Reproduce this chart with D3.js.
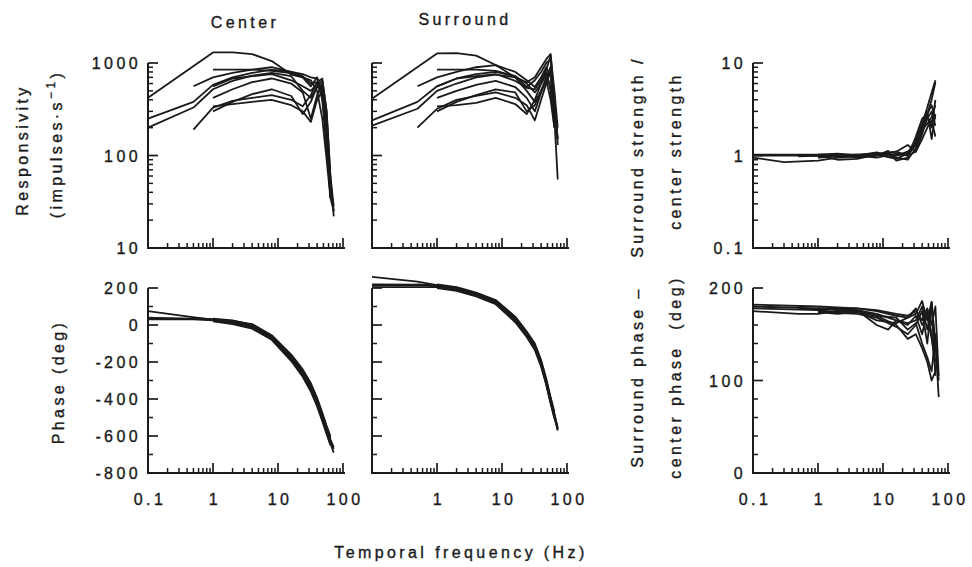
<!DOCTYPE html>
<html>
<head>
<meta charset="utf-8">
<script src="https://cdnjs.cloudflare.com/ajax/libs/d3/7.8.5/d3.min.js"></script>
<style>
  body { margin: 0; background: #fff; }
  text { font-family: "Liberation Sans", Arial, sans-serif; font-size: 16px; letter-spacing: 3.4px; fill: #1a1a1a; stroke: #1a1a1a; stroke-width: 0.35px; white-space: pre; }
</style>
</head>
<body>
<svg id="fig" width="972" height="567"></svg>
<script>
// ---- data: each curve is a list of [frequency Hz, value] ----
var centerResp = [
  [[0.1,420],[1,1300],[2,1300],[4,1250],[8,1050],[16,750],[24,700],[32,650],[40,500],[48,250],[56,90],[64,35]],
  [[0.5,560],[1,700],[2,780],[4,850],[8,900],[16,800],[24,760],[32,700],[40,680],[48,400],[56,120],[64,40]],
  [[1,850],[2,850],[4,850],[8,820],[16,780],[24,700],[32,560],[40,700],[48,500],[56,200],[64,50],[72,25]],
  [[0.1,250],[0.5,380],[1,580],[2,700],[4,780],[8,850],[16,800],[24,720],[32,600],[40,620],[48,420],[56,150],[64,40]],
  [[0.1,200],[0.5,330],[1,520],[2,640],[4,730],[8,780],[16,720],[24,500],[32,420],[40,550],[48,650],[56,300],[64,60],[72,28]],
  [[1,420],[2,520],[4,620],[8,680],[16,600],[24,480],[32,250],[40,450],[48,600],[56,250],[64,45]],
  [[0.5,190],[1,330],[2,390],[4,420],[8,450],[16,400],[24,340],[32,450],[40,620],[48,680],[56,300],[64,60],[72,22]],
  [[1,300],[2,380],[4,460],[8,520],[16,440],[24,280],[32,380],[40,560],[48,550],[56,200],[64,40]],
  [[1,340],[2,360],[4,380],[8,400],[16,350],[24,300],[32,230],[40,400],[48,500],[56,180],[64,35]],
  [[1,560],[2,680],[4,720],[8,760],[16,650],[24,560],[32,500],[40,600],[48,450],[56,150],[64,35],[72,25]]
]

var surroundResp = [
  [[0.1,410],[1,1270],[2,1280],[4,1200],[8,950],[16,700],[24,620],[32,700],[40,900],[48,1100],[56,1250],[64,400],[72,150]],
  [[0.5,560],[1,700],[2,800],[4,900],[8,950],[16,800],[24,650],[32,550],[40,700],[48,900],[56,700],[64,300]],
  [[1,850],[2,850],[4,850],[8,820],[16,720],[24,550],[32,650],[40,800],[48,1000],[56,1100],[64,350],[72,150]],
  [[0.1,240],[0.5,380],[1,560],[2,680],[4,760],[8,800],[16,720],[24,600],[32,480],[40,600],[48,800],[56,500],[64,200]],
  [[0.1,210],[0.5,320],[1,500],[2,600],[4,700],[8,750],[16,700],[24,500],[32,380],[40,500],[48,700],[56,900],[64,250],[72,55]],
  [[1,420],[2,500],[4,580],[8,640],[16,550],[24,420],[32,300],[40,480],[48,650],[56,800],[64,300]],
  [[0.5,200],[1,320],[2,400],[4,440],[8,480],[16,420],[24,350],[32,240],[40,400],[48,600],[56,900],[64,450],[72,130]],
  [[1,300],[2,380],[4,450],[8,520],[16,480],[24,300],[32,350],[40,500],[48,650],[56,400],[64,200]],
  [[1,340],[2,350],[4,370],[8,420],[16,360],[24,280],[32,400],[40,600],[48,750],[56,550],[64,250]],
  [[1,560],[2,680],[4,720],[8,760],[16,640],[24,540],[32,520],[40,650],[48,850],[56,1200],[64,500],[72,200]]
]

var strengthRatio = [
  [[0.1,1.0],[1,1.0],[2,1.0],[4,1.0],[8,1.05],[16,1.0],[24,1.05],[32,1.4],[40,2.2],[48,3.3],[56,4.8],[64,6.5]],
  [[0.1,0.95],[0.3,0.85],[1,0.88],[2,0.95],[4,0.98],[8,1.0],[16,1.1],[24,1.0],[32,1.3],[40,2.0],[48,2.8],[56,4.0],[64,6.2]],
  [[1,1.0],[2,1.02],[4,0.95],[8,1.0],[12,1.12],[16,0.88],[24,0.95],[32,1.6],[40,2.5],[48,2.8],[56,3.5],[64,2.5]],
  [[0.5,1.0],[1,1.0],[2,0.9],[4,0.92],[8,1.02],[16,1.0],[24,1.1],[32,1.3],[40,1.8],[48,2.5],[56,3.0],[64,2.1]],
  [[1,1.02],[2,1.05],[4,1.0],[8,1.08],[16,0.95],[24,0.9],[32,1.2],[40,1.9],[48,2.2],[56,2.6],[64,3.5]],
  [[0.1,1.02],[0.5,1.02],[1,1.02],[2,1.02],[4,1.02],[8,1.04],[16,1.1],[24,1.3],[32,1.1],[40,1.5],[48,2.0],[56,2.4],[64,1.6]],
  [[1,0.95],[2,0.98],[4,1.0],[8,0.95],[16,1.05],[24,1.0],[32,1.1],[40,1.7],[48,2.6],[56,2.0],[64,4.0]],
  [[0.5,0.98],[1,1.0],[2,1.0],[4,1.02],[8,1.02],[16,0.92],[24,1.05],[32,1.5],[40,2.2],[48,3.0],[56,1.5],[64,2.8]]
]

var centerPhase = [
  [[0.1,75],[1,28],[2,10],[4,-15],[8,-70],[16,-180],[24,-260],[32,-340],[40,-420],[48,-500],[56,-560],[64,-620],[72,-660]],
  [[0.1,30],[0.5,30],[1,25],[2,15],[4,-5],[8,-60],[16,-170],[24,-250],[32,-330],[40,-410],[48,-490],[56,-560],[64,-630]],
  [[0.1,40],[1,30],[2,20],[4,-10],[8,-75],[16,-190],[24,-275],[32,-350],[40,-430],[48,-510],[56,-580],[64,-640],[72,-690]],
  [[1,35],[2,25],[4,0],[8,-60],[16,-165],[24,-245],[32,-320],[40,-400],[48,-480],[56,-550],[64,-610]],
  [[1,20],[2,5],[4,-20],[8,-80],[16,-195],[24,-280],[32,-360],[40,-440],[48,-520],[56,-590],[64,-650]],
  [[0.5,40],[1,30],[2,18],[4,-8],[8,-65],[16,-175],[24,-255],[32,-335],[40,-415],[48,-495],[56,-565],[64,-625],[72,-670]],
  [[1,25],[2,12],[4,-12],[8,-72],[16,-185],[24,-265],[32,-345],[40,-425],[48,-505],[56,-575],[64,-635]],
  [[0.1,35],[0.5,35],[1,28],[2,22],[4,5],[8,-55],[16,-160],[24,-240],[32,-315],[40,-395],[48,-475],[56,-545],[64,-600]]
]

var surroundPhase = [
  [[0.1,260],[0.5,235],[1,215],[2,200],[4,170],[8,130],[16,40],[24,-40],[32,-110],[40,-200],[48,-300],[56,-400],[64,-480],[72,-560]],
  [[0.1,215],[0.5,215],[1,210],[2,195],[4,165],[8,125],[16,30],[24,-50],[32,-120],[40,-210],[48,-310],[56,-410],[64,-490]],
  [[0.1,205],[1,205],[2,190],[4,160],[8,118],[16,20],[24,-60],[32,-130],[40,-220],[48,-320],[56,-420],[64,-500],[72,-570]],
  [[1,220],[2,205],[4,175],[8,135],[16,45],[24,-35],[32,-100],[40,-190],[48,-290],[56,-390],[64,-470]],
  [[0.5,220],[1,212],[2,200],[4,168],[8,128],[16,35],[24,-45],[32,-115],[40,-205],[48,-305],[56,-405],[64,-485],[72,-555]],
  [[1,200],[2,185],[4,155],[8,112],[16,15],[24,-65],[32,-135],[40,-225],[48,-325],[56,-425],[64,-505]],
  [[0.1,220],[0.5,218],[1,214],[2,202],[4,172],[8,132],[16,38],[24,-42],[32,-112],[40,-202],[48,-302],[56,-402],[64,-482]],
  [[1,208],[2,193],[4,162],[8,120],[16,25],[24,-55],[32,-125],[40,-215],[48,-315],[56,-415],[64,-495],[72,-565]]
]

var phaseDiff = [
  [[0.1,180],[1,178],[2,178],[4,178],[8,175],[16,170],[24,168],[32,172],[40,186],[48,165],[56,185],[64,140],[72,82]],
  [[0.1,175],[0.5,172],[1,172],[2,175],[4,176],[8,160],[12,155],[16,165],[24,160],[32,170],[40,150],[48,175],[56,150],[64,110]],
  [[0.1,178],[1,176],[2,174],[4,175],[8,170],[16,160],[24,145],[32,150],[40,135],[48,120],[56,100],[64,110]],
  [[0.5,178],[1,177],[2,177],[4,176],[8,172],[16,165],[24,162],[32,165],[40,180],[48,155],[56,180],[64,105]],
  [[1,175],[2,173],[4,172],[8,168],[16,158],[24,150],[32,160],[40,175],[48,140],[56,185],[64,130]],
  [[0.1,182],[1,180],[2,179],[4,178],[8,176],[16,172],[24,170],[32,175],[40,165],[48,178],[56,160],[64,180],[72,105]],
  [[1,178],[2,176],[4,175],[8,165],[16,162],[24,168],[32,178],[40,160],[48,170],[56,145],[64,120]],
  [[1,174],[2,172],[4,174],[8,170],[16,168],[24,155],[32,162],[40,140],[48,125],[56,110],[64,150],[72,100]]
]

// tick values / labels
var freqMajor = [1, 10, 100]
var freqMinor = [0.2,0.3,0.4,0.5,0.6,0.7,0.8,0.9, 2,3,4,5,6,7,8,9, 20,30,40,50,60,70,80,90]
var freqLabels = ["0.1", "1", "10", "100"]
var respLabels = ["10", "100", "1000"]
var ratioLabels = ["0.1", "1", "10"]
var phaseLabels = ["200", "0", "-200", "-400", "-600", "-800"]
var diffLabels = ["200", "100", "0"]

var svg = d3.select('#fig')
var ink = '#1a1a1a'

function logMinor(lo, hi) {
  var out = []
  for (var d = lo; d < hi; d *= 10) {
    for (var k = 2; k <= 9; k++) out.push(d * k)
  }
  return out
}

// panel layout
var cols = [148, 372, 753]
var rows = [[248, 63], [473, 288]]
var plotW = 195

var panels = [
  {col: 0, row: 0, data: centerResp, type: 'log', domain: [10, 1000], major: [10, 100, 1000], labels: respLabels, minor: logMinor(10, 1000), xlabels: null},
  {col: 1, row: 0, data: surroundResp, type: 'log', domain: [10, 1000], major: [10, 100, 1000], labels: null, minor: logMinor(10, 1000), xlabels: null},
  {col: 2, row: 0, data: strengthRatio, type: 'log', domain: [0.1, 10], major: [0.1, 1, 10], labels: ratioLabels, minor: logMinor(0.1, 10), xlabels: null},
  {col: 0, row: 1, data: centerPhase, type: 'lin', domain: [-800, 200], major: [200, 0, -200, -400, -600, -800], labels: phaseLabels, minor: d3.range(-700, 200, 200), xlabels: freqLabels},
  {col: 1, row: 1, data: surroundPhase, type: 'lin', domain: [-800, 200], major: [200, 0, -200, -400, -600, -800], labels: null, minor: d3.range(-700, 200, 200), xlabels: freqLabels.slice(1)},
  {col: 2, row: 1, data: phaseDiff, type: 'lin', domain: [0, 200], major: [200, 100, 0], labels: diffLabels, minor: [20, 40, 60, 80, 120, 140, 160, 180], xlabels: freqLabels}
]

panels.forEach(function(p) {
  var x0 = cols[p.col]
  var yb = rows[p.row][0], yt = rows[p.row][1]
  var x = d3.scaleLog().domain([0.1, 100]).range([x0, x0 + plotW])
  var y = (p.type == 'log' ? d3.scaleLog() : d3.scaleLinear()).domain(p.domain).range([yb, yt])
  var g = svg.append('g')

  // axis lines
  g.append('line').attr('x1', x0).attr('x2', x0).attr('y1', yb).attr('y2', yt)
    .attr('stroke', ink).attr('stroke-width', 2)
  g.append('line').attr('x1', x0 - 1).attr('x2', x0 + plotW + 2).attr('y1', yb).attr('y2', yb)
    .attr('stroke', ink).attr('stroke-width', 2)

  // y ticks (inward)
  g.selectAll('.ymaj').data(p.major).enter().append('line')
    .attr('x1', x0).attr('x2', x0 + 10)
    .attr('y1', function(d) { return y(d) }).attr('y2', function(d) { return y(d) })
    .attr('stroke', ink).attr('stroke-width', 1.7)
  g.selectAll('.ymin').data(p.minor).enter().append('line')
    .attr('x1', x0).attr('x2', x0 + 5)
    .attr('y1', function(d) { return y(d) }).attr('y2', function(d) { return y(d) })
    .attr('stroke', ink).attr('stroke-width', 1.5)

  // x ticks (upward)
  g.selectAll('.xmaj').data(freqMajor).enter().append('line')
    .attr('x1', function(d) { return x(d) }).attr('x2', function(d) { return x(d) })
    .attr('y1', yb).attr('y2', yb - 10)
    .attr('stroke', ink).attr('stroke-width', 1.7)
  g.selectAll('.xmin').data(freqMinor).enter().append('line')
    .attr('x1', function(d) { return x(d) }).attr('x2', function(d) { return x(d) })
    .attr('y1', yb).attr('y2', yb - 5)
    .attr('stroke', ink).attr('stroke-width', 1.5)

  // y tick labels (listed in the same order as the major ticks)
  if (p.labels) {
    g.selectAll('.ylab').data(p.labels).enter().append('text')
      .attr('x', x0 - 7).attr('y', function(d, i) { return y(p.major[i]) + 6 })
      .attr('text-anchor', 'end')
      .text(function(d) { return d })
  }
  // x tick labels
  if (p.xlabels) {
    g.selectAll('.xlab').data(p.xlabels).enter().append('text')
      .attr('x', function(d) { return x(+d) + 2 }).attr('y', yb + 32)
      .attr('text-anchor', 'middle')
      .text(function(d) { return d })
  }

  // curves
  var line = d3.line().x(function(d) { return x(d[0]) }).y(function(d) { return y(d[1]) })
  g.selectAll('.curve').data(p.data).enter().append('path')
    .attr('d', line).attr('fill', 'none')
    .attr('stroke', ink).attr('stroke-width', 1.8).attr('stroke-linejoin', 'round')
})

// titles
svg.append('text').attr('x', 245).attr('y', 28).attr('text-anchor', 'middle').text('Center')
svg.append('text').attr('x', 465).attr('y', 25).attr('text-anchor', 'middle').text('Surround')

function vlabel(x, y, s) {
  return svg.append('text').attr('text-anchor', 'middle')
    .attr('transform', 'translate(' + x + ',' + y + ') rotate(-90)').text(s)
}
vlabel(28, 150, 'Responsivity')
var imp = svg.append('text').attr('text-anchor', 'middle')
  .attr('transform', 'translate(62,144) rotate(-90)')
imp.append('tspan').text('(impulses\u00b7s')
imp.append('tspan').attr('dy', -7).attr('font-size', 12).text('\u22121')
imp.append('tspan').attr('dy', 7).text(')')
vlabel(64, 382, 'Phase (deg)')
vlabel(643, 157, 'Surround strength /')
vlabel(681, 151, 'center strength')
vlabel(643, 377, 'Surround phase \u2013')
vlabel(681, 377, 'center phase  (deg)')

svg.append('text').attr('x', 461).attr('y', 558).attr('text-anchor', 'middle').text('Temporal frequency (Hz)')
</script>
</body>
</html>
